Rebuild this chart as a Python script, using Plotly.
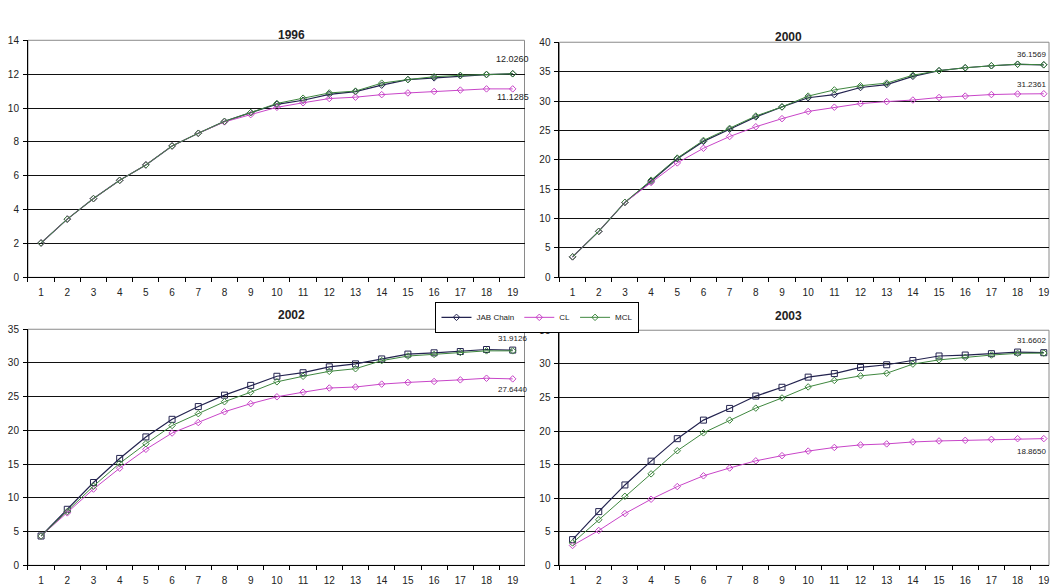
import plotly.graph_objects as go

periods = list(range(1, 20))

titles = ["1996", "2000", "2002", "2003"]

jab_1996 = [2.03, 3.44, 4.65, 5.73, 6.64, 7.76, 8.51, 9.21, 9.73, 10.22, 10.46, 10.81, 10.97, 11.35, 11.68, 11.78, 11.91, 11.97, 12.026]
cl_1996 = [2.03, 3.44, 4.65, 5.73, 6.64, 7.76, 8.51, 9.18, 9.61, 10.04, 10.31, 10.56, 10.64, 10.79, 10.89, 10.98, 11.06, 11.13, 11.1285]
mcl_1996 = [2.03, 3.44, 4.65, 5.73, 6.64, 7.76, 8.51, 9.21, 9.73, 10.27, 10.58, 10.89, 11.0, 11.47, 11.68, 11.85, 11.93, 11.99, 12.02]

jab_2000 = [3.49, 7.82, 12.76, 16.36, 20.19, 23.13, 25.2, 27.3, 29.0, 30.56, 31.1, 32.3, 32.8, 34.2, 35.16, 35.66, 36.0, 36.25, 36.1569]
cl_2000 = [3.49, 7.82, 12.76, 16.14, 19.47, 21.96, 23.96, 25.62, 27.0, 28.23, 28.95, 29.56, 29.9, 30.17, 30.6, 30.84, 31.1, 31.2, 31.236]
mcl_2000 = [3.49, 7.82, 12.76, 16.53, 20.3, 23.3, 25.35, 27.45, 29.0, 30.84, 31.89, 32.6, 33.05, 34.39, 35.16, 35.66, 36.0, 36.27, 36.16]

jab_2002 = [4.35, 8.31, 12.28, 15.85, 19.04, 21.65, 23.54, 25.23, 26.68, 28.03, 28.56, 29.43, 29.87, 30.6, 31.32, 31.51, 31.7, 32.0, 31.9126]
cl_2002 = [4.35, 7.78, 11.31, 14.4, 17.2, 19.62, 21.17, 22.77, 23.97, 24.99, 25.67, 26.29, 26.44, 26.87, 27.12, 27.26, 27.5, 27.74, 27.644]
mcl_2002 = [4.35, 7.97, 11.74, 15.13, 18.03, 20.73, 22.48, 24.26, 25.67, 27.21, 28.03, 28.76, 29.15, 30.35, 31.03, 31.27, 31.56, 31.8, 31.8]

jab_2003 = [3.83, 8.0, 11.97, 15.51, 18.86, 21.62, 23.36, 25.2, 26.51, 28.02, 28.55, 29.47, 29.86, 30.49, 31.17, 31.31, 31.51, 31.75, 31.66]
cl_2003 = [2.96, 5.19, 7.71, 9.84, 11.73, 13.33, 14.49, 15.56, 16.33, 17.01, 17.55, 17.93, 18.08, 18.37, 18.52, 18.61, 18.76, 18.86, 18.865]
mcl_2003 = [3.34, 6.79, 10.28, 13.62, 17.06, 19.73, 21.62, 23.41, 24.92, 26.56, 27.53, 28.21, 28.6, 29.96, 30.59, 30.97, 31.31, 31.56, 31.6]

end_labels = [
    ("12.0260", 12.9, "11.1285", 10.68),
    ("36.1569", 37.99, "31.2361", 32.83),
    ("31.9126", 33.6, "27.6440", 26.05),
    ("31.6602", 33.5, "18.8650", 16.9),
]

y_max = [14, 40, 35, 35]
y_step = [2, 5, 5, 5]

data = [
    (jab_1996, cl_1996, mcl_1996),
    (jab_2000, cl_2000, mcl_2000),
    (jab_2002, cl_2002, mcl_2002),
    (jab_2003, cl_2003, mcl_2003),
]

C_JAB = "#23234f"
C_CL = "#c845c8"
C_MCL = "#3f873f"

W, H = 1050, 588
# plot-area boxes in pixels (left, right, top, bottom)
boxes = [
    (28, 525, 35, 277),
    (560, 1050, 37, 277),
    (28, 525, 330, 571),
    (560, 1050, 331, 571),
]
xranges = [[0.5, 19.45], [0.5, 19.2], [0.5, 19.45], [0.5, 19.2]]

fig = go.Figure()
font_family = "Liberation Sans, Arial, sans-serif"

for i, (jab, cl, mcl) in enumerate(data):
    ax = "" if i == 0 else str(i + 1)
    jab_sym = "diamond-open" if i < 2 else "square-open"
    show = i == 0
    fig.add_trace(go.Scatter(
        x=periods, y=jab, name="JAB Chain", mode="lines+markers",
        line=dict(color=C_JAB, width=1.2),
        marker=dict(symbol=jab_sym, size=6 if i >= 2 else 5, color=C_JAB, line=dict(width=1)),
        xaxis="x" + ax, yaxis="y" + ax, showlegend=show, legendrank=1))
    fig.add_trace(go.Scatter(
        x=periods, y=cl, name="CL", mode="lines+markers",
        line=dict(color=C_CL, width=1),
        marker=dict(symbol="diamond-open", size=5, color=C_CL, line=dict(width=1)),
        xaxis="x" + ax, yaxis="y" + ax, showlegend=show, legendrank=2))
    fig.add_trace(go.Scatter(
        x=periods, y=mcl, name="MCL", mode="lines+markers",
        line=dict(color=C_MCL, width=1),
        marker=dict(symbol="diamond-open", size=5, color=C_MCL, line=dict(width=1)),
        xaxis="x" + ax, yaxis="y" + ax, showlegend=show, legendrank=3))

    l, r, t, b = boxes[i]
    xd = [l / W, r / W]
    yd = [1 - b / H, 1 - t / H]
    fig.layout["xaxis" + ax] = dict(
        domain=xd, range=xranges[i], anchor="y" + ax,
        tickmode="array", tickvals=periods, ticktext=[str(p) for p in periods],
        ticks="outside", ticklen=6, tickcolor="rgba(0,0,0,0)",
        ticklabeloverflow="allow",
        showline=True, linecolor="#000", linewidth=1,
        showgrid=False, zeroline=False,
        tickfont=dict(size=10, color="#222", family=font_family),
        minor=dict(tick0=0.5, dtick=1, ticks="outside", ticklen=4, tickcolor="#000", showgrid=False),
        fixedrange=True,
    )
    fig.layout["yaxis" + ax] = dict(
        domain=yd, range=[0, y_max[i]], anchor="x" + ax,
        dtick=y_step[i], tick0=0,
        ticks="outside", ticklen=4, tickcolor="#000",
        showline=True, linecolor="#000", linewidth=1,
        showgrid=True, gridcolor="#111", gridwidth=1,
        zeroline=False,
        tickfont=dict(size=10, color="#222", family=font_family),
        ticklabelstandoff=2,
        fixedrange=True,
    )
    # plot-area border (top / right)
    fig.add_shape(type="rect", xref="x" + ax + " domain", yref="y" + ax + " domain",
                  x0=0, x1=1, y0=0, y1=1, line=dict(color="#8a8a8a", width=1), layer="below")
    # title
    fig.add_annotation(text="<b>" + titles[i] + "</b>", xref="paper", yref="paper",
                       x=(l + r) / 2 / W, y=1 - (t - 15) / H, showarrow=False,
                       font=dict(size=12, color="#222", family=font_family))
    # end labels
    lab_size = 9 if i == 0 else 8
    top_t, top_y, bot_t, bot_y = end_labels[i]
    clipped = i in (1, 3)
    xa = "right" if clipped else "center"
    lx = 19.18 if clipped else 19
    fig.add_annotation(text=top_t, xref="x" + ax, yref="y" + ax, x=lx, y=top_y, xanchor=xa,
                       showarrow=False, font=dict(size=lab_size, color="#222", family=font_family))
    fig.add_annotation(text=bot_t, xref="x" + ax, yref="y" + ax, x=lx, y=bot_y, xanchor=xa,
                       showarrow=False, font=dict(size=lab_size, color="#222", family=font_family))

fig.update_layout(
    width=W, height=H,
    margin=dict(l=0, r=0, t=0, b=0),
    paper_bgcolor="white", plot_bgcolor="white",
    legend=dict(orientation="h", x=538 / W, y=1 - 302 / H, xanchor="center", yanchor="top",
                bordercolor="#000", borderwidth=1, bgcolor="white",
                font=dict(size=8, color="#222", family=font_family),
                itemwidth=30, tracegroupgap=0),
    showlegend=True,
)

fig.write_html("out.html")
